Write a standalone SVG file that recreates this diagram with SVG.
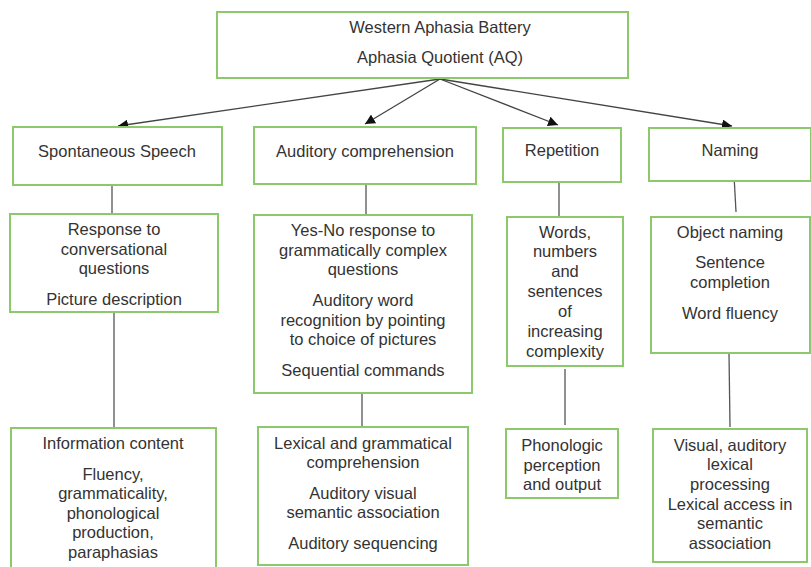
<svg xmlns="http://www.w3.org/2000/svg" width="811" height="567" viewBox="0 0 811 567">
  <style>
    .box { fill: #ffffff; stroke: #8cc86c; stroke-width: 2; }
    .t { font-family: "Liberation Sans", Arial, sans-serif; font-size: 16.5px; fill: #333333; text-anchor: middle; }
    .link { stroke: #555555; stroke-width: 1.3; fill: none; }
    .arrow { stroke: #444444; stroke-width: 1.3; fill: none; marker-end: url(#head); }
  </style>
  <defs>
    <marker id="head" viewBox="0 0 10 10" refX="10" refY="5" markerWidth="10" markerHeight="10" markerUnits="userSpaceOnUse" orient="auto">
      <path d="M0,0 L10,5 L0,10 z" fill="#111111"/>
    </marker>
  </defs>
  <rect width="811" height="567" fill="#ffffff"/>

  <g id="connectors">
    <line class="arrow" x1="440" y1="79" x2="118" y2="126"/>
    <line class="arrow" x1="440" y1="79" x2="365" y2="124"/>
    <line class="arrow" x1="440" y1="79" x2="558" y2="125"/>
    <line class="arrow" x1="440" y1="79" x2="732" y2="126"/>
    <line class="link" x1="112" y1="185" x2="112" y2="214"/>
    <line class="link" x1="366" y1="184" x2="366" y2="215"/>
    <line class="link" x1="559" y1="182" x2="559" y2="217"/>
    <line class="link" x1="734" y1="175" x2="736" y2="212"/>
    <line class="link" x1="114" y1="312" x2="114" y2="428"/>
    <line class="link" x1="362" y1="393" x2="362" y2="427"/>
    <line class="link" x1="565" y1="369" x2="565" y2="425"/>
    <line class="link" x1="729" y1="353" x2="730" y2="427"/>
  </g>

  <g id="wab">
    <rect class="box" x="217" y="12" width="411" height="66"/>
    <text class="t" x="440" y="33">Western Aphasia Battery</text>
    <text class="t" x="440" y="63">Aphasia Quotient (AQ)</text>
  </g>

  <g id="spontaneous-speech">
    <rect class="box" x="13" y="127" width="209" height="58"/>
    <text class="t" x="117" y="157">Spontaneous Speech</text>
  </g>
  <g id="auditory-comprehension">
    <rect class="box" x="254" y="127" width="222" height="57"/>
    <text class="t" x="365" y="157">Auditory comprehension</text>
  </g>
  <g id="repetition">
    <rect class="box" x="503" y="128" width="118" height="54"/>
    <text class="t" x="562" y="156">Repetition</text>
  </g>
  <g id="naming">
    <rect class="box" x="649" y="128" width="162" height="53"/>
    <text class="t" x="730" y="156">Naming</text>
  </g>

  <g id="ss-tasks">
    <rect class="box" x="10" y="214" width="208" height="98"/>
    <text class="t" x="114" y="235">Response to</text>
    <text class="t" x="114" y="255">conversational</text>
    <text class="t" x="114" y="274">questions</text>
    <text class="t" x="114" y="305">Picture description</text>
  </g>
  <g id="ac-tasks">
    <rect class="box" x="254" y="215" width="218" height="178"/>
    <text class="t" x="363" y="236">Yes-No response to</text>
    <text class="t" x="363" y="256">grammatically complex</text>
    <text class="t" x="363" y="275">questions</text>
    <text class="t" x="363" y="306">Auditory word</text>
    <text class="t" x="363" y="326">recognition by pointing</text>
    <text class="t" x="363" y="345">to choice of pictures</text>
    <text class="t" x="363" y="376">Sequential commands</text>
  </g>
  <g id="rep-tasks">
    <rect class="box" x="507" y="217" width="116" height="149"/>
    <text class="t" x="565" y="238">Words,</text>
    <text class="t" x="565" y="257">numbers</text>
    <text class="t" x="565" y="277">and</text>
    <text class="t" x="565" y="297">sentences</text>
    <text class="t" x="565" y="317">of</text>
    <text class="t" x="565" y="337">increasing</text>
    <text class="t" x="565" y="357">complexity</text>
  </g>
  <g id="naming-tasks">
    <rect class="box" x="651" y="217" width="159" height="136"/>
    <text class="t" x="730" y="238">Object naming</text>
    <text class="t" x="730" y="268">Sentence</text>
    <text class="t" x="730" y="288">completion</text>
    <text class="t" x="730" y="319">Word fluency</text>
  </g>

  <g id="ss-measures">
    <rect class="box" x="11" y="428" width="205" height="145"/>
    <text class="t" x="113" y="449">Information content</text>
    <text class="t" x="113" y="480">Fluency,</text>
    <text class="t" x="113" y="499">grammaticality,</text>
    <text class="t" x="113" y="519">phonological</text>
    <text class="t" x="113" y="538">production,</text>
    <text class="t" x="113" y="558">paraphasias</text>
  </g>
  <g id="ac-measures">
    <rect class="box" x="258" y="427" width="210" height="138"/>
    <text class="t" x="363" y="449">Lexical and grammatical</text>
    <text class="t" x="363" y="468">comprehension</text>
    <text class="t" x="363" y="499">Auditory visual</text>
    <text class="t" x="363" y="518">semantic association</text>
    <text class="t" x="363" y="549">Auditory sequencing</text>
  </g>
  <g id="rep-measures">
    <rect class="box" x="506" y="429" width="112" height="69"/>
    <text class="t" x="562" y="451">Phonologic</text>
    <text class="t" x="562" y="471">perception</text>
    <text class="t" x="562" y="490">and output</text>
  </g>
  <g id="naming-measures">
    <rect class="box" x="653" y="429" width="154" height="133"/>
    <text class="t" x="730" y="451">Visual, auditory</text>
    <text class="t" x="730" y="470">lexical</text>
    <text class="t" x="730" y="490">processing</text>
    <text class="t" x="730" y="510">Lexical access in</text>
    <text class="t" x="730" y="529">semantic</text>
    <text class="t" x="730" y="549">association</text>
  </g>
</svg>
